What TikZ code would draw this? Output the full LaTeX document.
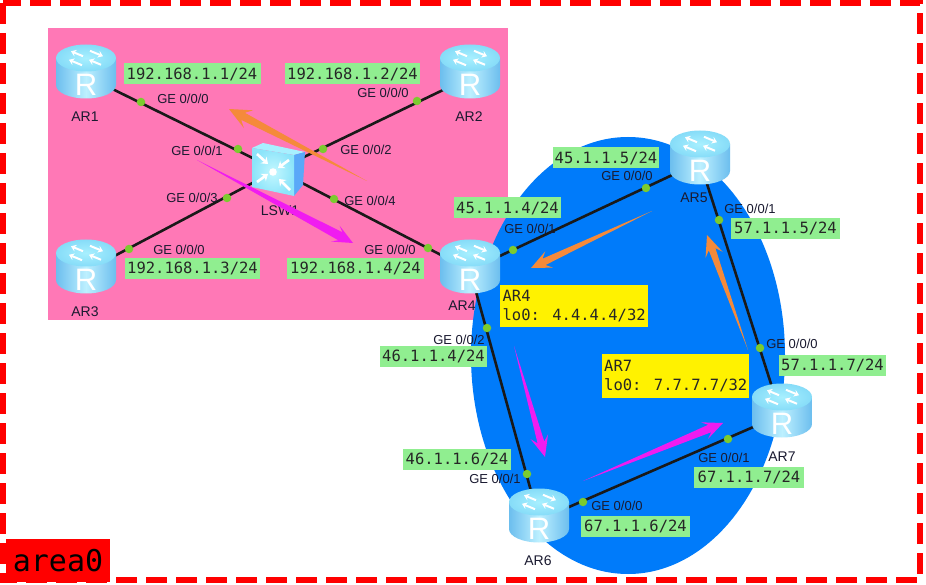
\documentclass[tikz,border=0pt]{standalone}
\usepackage{fontspec}
\setmainfont{Liberation Sans}
\newfontfamily\monof{DejaVu Sans Mono}
\usetikzlibrary{calc,arrows.meta,shapes.geometric}
\definecolor{pinkbg}{HTML}{FF78B6}
\definecolor{bluebg}{HTML}{007BFA}
\definecolor{lblgreen}{HTML}{90EE90}
\definecolor{dotgreen}{HTML}{7CCB2F}
\definecolor{arrorange}{HTML}{F58A3A}
\definecolor{arrmag}{HTML}{F01CF0}
\definecolor{rtside}{HTML}{6CBEEE}
\definecolor{rtmid}{HTML}{BDF0FF}
\definecolor{rttop}{HTML}{A8F0FF}
\definecolor{rttop2}{HTML}{86DCF8}
\definecolor{swside}{HTML}{5AA8F8}
\definecolor{swfront}{HTML}{8CE4FA}
\definecolor{swfront2}{HTML}{C4F8FF}
\definecolor{txtc}{HTML}{1A1A30}
\tikzset{
  x=1pt,y=-1pt,
  iplabel/.style={fill=lblgreen,font=\monof\fontsize{15.5}{15.5}\selectfont,text=black!85,inner sep=0pt,minimum height=21pt,anchor=center},
  gelabel/.style={font=\fontsize{13}{13}\selectfont,text=txtc,inner sep=0pt},
  namelabel/.style={font=\fontsize{14}{14}\selectfont,text=txtc,inner sep=0pt},
  dotnode/.style={circle,fill=dotgreen,inner sep=0pt,minimum size=8.5pt},
  linknode/.style={coordinate},
  link/.style={draw=black!90,line width=2.6pt},
  lobox/.style={fill=yellow,font=\monof\fontsize{15.5}{19}\selectfont,text=black!85,inner sep=2pt,align=left,anchor=north west},
  whitearr/.style={draw=white,line width=2pt,-{Stealth[length=5pt,width=7pt]}},
  swarr/.style={draw=white,line width=2.6pt,-{Stealth[length=6pt,width=9pt]}},
  routerpic/.pic={
    \shade[left color=rtside,right color=rtside,middle color=rtmid]
      (-30,-14) -- (-30,13) arc[start angle=180,end angle=360,x radius=30,y radius=-13.5] -- (30,-14) -- cycle;
    \shade[inner color=rttop,outer color=rttop2] (0,-14) ellipse[x radius=30,y radius=13.5];
    \begin{scope}[shift={(0,-14)},yscale=.45]
      \draw[whitearr] (-3,-4) -- (-15,-15);
      \draw[whitearr] (15,15) -- (3,4);
      \draw[whitearr] (4,-16) -- (17,-4);
      \draw[whitearr] (-4,16) -- (-17,4);
    \end{scope}
    \node[text=white,font=\fontsize{31}{31}\selectfont,inner sep=0pt] at (0,13) {R};
  },
  switchpic/.pic={
    \fill[rttop] (-25,-21) -- (-14,-26) -- (28,-17) -- (17,-14) -- cycle;
    \fill[swside] (17,-14) -- (28,-17) -- (26,16) -- (17,27) -- cycle;
    \shade[inner color=swfront2,outer color=swfront] (-25,-21) -- (17,-14) -- (17,27) -- (-25,18) -- cycle;
    \draw[swarr] (-20,-15) -- (-9,-5);
    \draw[swarr] (12,-9) -- (1,-1);
    \draw[swarr] (-20,13) -- (-9,5);
    \draw[swarr] (13,21) -- (2,10);
    \fill[white] (-4,3) circle[radius=3.8];
  }
}
\newcommand{\fatarrow}[6]{%
  \fill[#3] (#1)
    -- ($($(#2)!#4*0.72pt!(#1)$)!#6pt!90:(#2)$)
    -- ($($(#2)!#4pt!(#1)$)!#5pt!90:(#2)$)
    -- (#2)
    -- ($($(#2)!#4pt!(#1)$)!#5pt!-90:(#2)$)
    -- ($($(#2)!#4*0.72pt!(#1)$)!#6pt!-90:(#2)$)
    -- cycle;}
\begin{document}
\begin{tikzpicture}
\useasboundingbox (0,0) rectangle (926,585);
\fill[white] (0,0) rectangle (926,585);
% backgrounds
\fill[pinkbg] (48,28) rectangle (508,320);
\fill[bluebg] (628,355.5) ellipse[x radius=157,y radius=218.5];
% border
\draw[red,line width=6pt,dash pattern=on 21pt off 9pt] (3,3) rectangle (920,580);
% link end points
\node[linknode] (ar1) at (86,76) {};
\node[linknode] (ar2) at (470,77) {};
\node[linknode] (ar3) at (86,271) {};
\node[linknode] (ar4) at (470,270) {};
\node[linknode] (ar5) at (700,162) {};
\node[linknode] (ar6) at (539,520) {};
\node[linknode] (ar7) at (781,415) {};
\node[linknode] (lsw) at (277,170) {};
% links
\draw[link] (ar1) -- (lsw);
\draw[link] (ar2) -- (lsw);
\draw[link] (ar3) -- (lsw);
\draw[link] (ar4) -- (lsw);
\draw[link] (ar4) -- (ar5);
\draw[link] (ar4) -- (ar6);
\draw[link] (ar5) -- (ar7);
\draw[link] (ar6) -- (ar7);
% dots
\node[dotnode] (d1) at (141,102) {};
\node[dotnode] (d2) at (238,149) {};
\node[dotnode] (d3) at (323,149) {};
\node[dotnode] (d4) at (227,198) {};
\node[dotnode] (d5) at (334,199) {};
\node[dotnode] (d6) at (428,248) {};
\node[dotnode] (d7) at (417,101) {};
\node[dotnode] (d8) at (129,249) {};
\node[dotnode] (d9) at (513,250) {};
\node[dotnode] (d10) at (487,328) {};
\node[dotnode] (d11) at (646,188) {};
\node[dotnode] (d12) at (719,220) {};
\node[dotnode] (d13) at (760,348) {};
\node[dotnode] (d14) at (728,439) {};
\node[dotnode] (d15) at (527,474) {};
\node[dotnode] (d16) at (583,502) {};
% names under arrows
\node[namelabel] (nlsw) at (280,211) {LSW1};
% arrows
\fatarrow{367,181}{229,109}{arrorange}{22}{10}{4}
\fatarrow{197,160}{353,243}{arrmag}{20}{9}{4.5}
\fatarrow{652,211}{531,268}{arrorange}{20}{9}{3.5}
\fatarrow{748,350}{707,235}{arrorange}{21}{9}{3.5}
\fatarrow{514,346}{545,457}{arrmag}{21}{9}{3.5}
\fatarrow{583,481}{723,423}{arrmag}{20}{9}{4}
% icons
\pic at (86,72) {routerpic};
\pic at (470,72) {routerpic};
\pic at (86,267) {routerpic};
\pic at (470,267) {routerpic};
\pic at (700,158) {routerpic};
\pic at (539,516) {routerpic};
\pic at (782,411) {routerpic};
\pic at (277,169) {switchpic};
% names
\node[namelabel] (n1) at (85,117) {AR1};
\node[namelabel] (n2) at (469,117) {AR2};
\node[namelabel] (n3) at (85,312) {AR3};
\node[namelabel] (n4) at (462,306) {AR4};
\node[namelabel] (n5) at (694,198) {AR5};
\node[namelabel] (n6) at (538,561) {AR6};
\node[namelabel] (n7) at (782,457) {AR7};
% interface labels
\node[gelabel] (g1) at (183,99) {GE 0/0/0};
\node[gelabel] (g2) at (197,151) {GE 0/0/1};
\node[gelabel] (g3) at (192,198) {GE 0/0/3};
\node[gelabel] (g4) at (366,150) {GE 0/0/2};
\node[gelabel] (g5) at (370,201) {GE 0/0/4};
\node[gelabel] (g6) at (383,93) {GE 0/0/0};
\node[gelabel] (g7) at (179,250) {GE 0/0/0};
\node[gelabel] (g8) at (390,250) {GE 0/0/0};
\node[gelabel] (g9) at (530,229) {GE 0/0/1};
\node[gelabel] (g10) at (459,340) {GE 0/0/2};
\node[gelabel] (g11) at (627,176) {GE 0/0/0};
\node[gelabel] (g12) at (750,209) {GE 0/0/1};
\node[gelabel] (g13) at (792,344) {GE 0/0/0};
\node[gelabel] (g14) at (724,458) {GE 0/0/1};
\node[gelabel] (g15) at (617,506) {GE 0/0/0};
\node[gelabel] (g16) at (495,479) {GE 0/0/1};
% address labels
\node[iplabel,minimum width=137pt] (i1) at (192,74) {192.168.1.1/24};
\node[iplabel,minimum width=135pt] (i2) at (352.5,74) {192.168.1.2/24};
\node[iplabel,minimum width=135pt] (i3) at (192.5,268.5) {192.168.1.3/24};
\node[iplabel,minimum width=137pt] (i4) at (355.5,268.5) {192.168.1.4/24};
\node[iplabel,minimum width=106pt] (i5) at (606,158) {45.1.1.5/24};
\node[iplabel,minimum width=107pt] (i6) at (507.5,208) {45.1.1.4/24};
\node[iplabel,minimum width=109pt] (i7) at (785.5,228.5) {57.1.1.5/24};
\node[iplabel,minimum width=107pt] (i8) at (832.5,365) {57.1.1.7/24};
\node[iplabel,minimum width=107pt] (i9) at (433.5,356.5) {46.1.1.4/24};
\node[iplabel,minimum width=108pt] (i10) at (457,459.5) {46.1.1.6/24};
\node[iplabel,minimum width=110pt] (i11) at (749,477.5) {67.1.1.7/24};
\node[iplabel,minimum width=109pt] (i12) at (635.5,526) {67.1.1.6/24};
% loopback boxes
\node[lobox,minimum width=148pt,minimum height=42pt] (lo4) at (500,285) {AR4\\lo0: 4.4.4.4/32};
\node[lobox,minimum width=147pt,minimum height=44pt] (lo7) at (602,354) {AR7\\lo0: 7.7.7.7/32};
% area tag
\node[fill=red,text=black,font=\monof\fontsize{30}{30}\selectfont,inner sep=0pt,minimum width=104pt,minimum height=43pt] (area) at (58,560.5) {area0};
\end{tikzpicture}
\end{document}
